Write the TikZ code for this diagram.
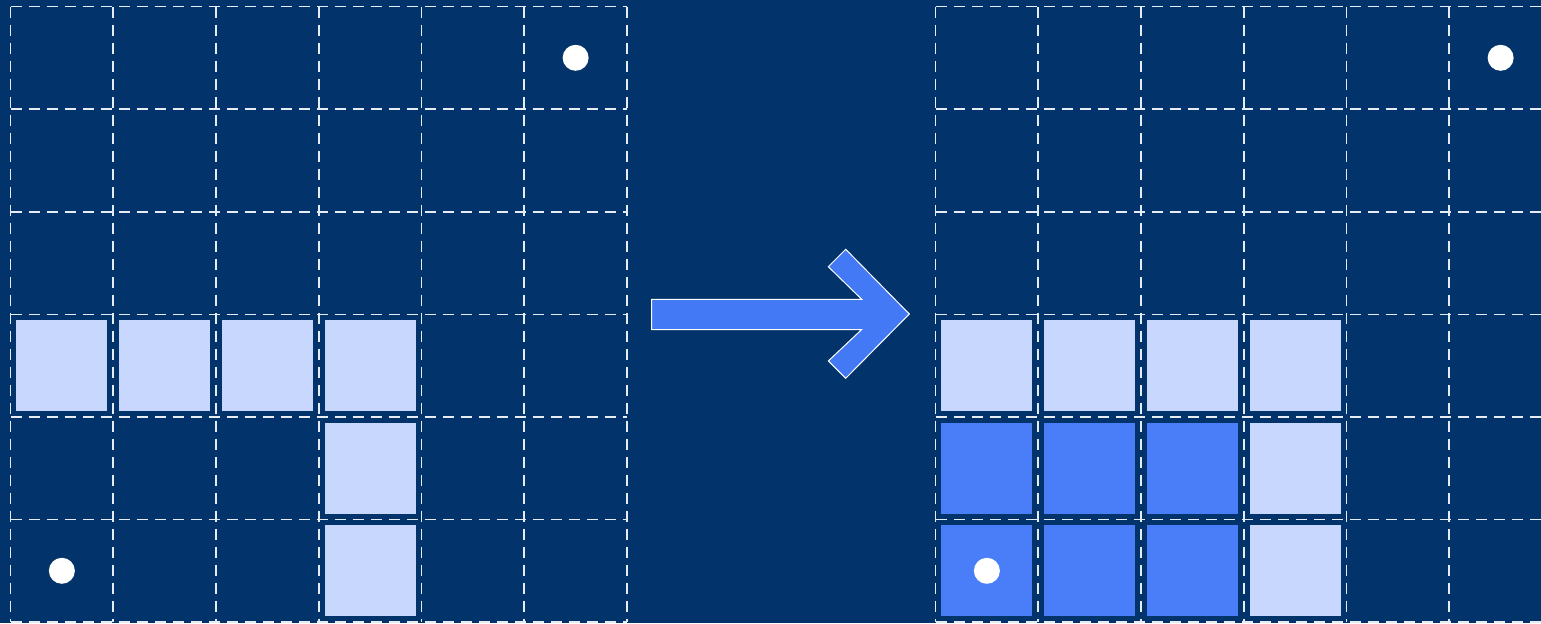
\documentclass[tikz,border=0pt]{standalone}
\usetikzlibrary{positioning}
\definecolor{cbg}{HTML}{02336A}
\definecolor{clight}{HTML}{C8D7FD}
\definecolor{cblue}{HTML}{4A7EF9}
\definecolor{carrow}{HTML}{4479F5}
\definecolor{cgrid}{HTML}{E6ECF4}
\begin{document}
\begin{tikzpicture}[
  x=0.5pt, y=-0.5pt,
  gridline/.style={draw=cgrid, dash pattern=on 5.5pt off 3.5pt, line width=0.8pt},
  cell/.style={draw=none, minimum size=45.5pt, inner sep=0pt},
  lightcell/.style={cell, fill=clight},
  bluecell/.style={cell, fill=cblue},
  dot/.style={circle, fill=white, minimum size=13pt, inner sep=0pt},
  ]
\useasboundingbox (0,0) rectangle (1541,623);
\fill[cbg] (0,0) rectangle (1541,623);
\clip (0,0) rectangle (1541,623);

% grid origins and step
\def\lx{10.5}
\def\rx{935.5}
\def\gy{6.5}
\def\sx{102.75}
\def\sy{102.6}

% dashed grids
\foreach \i in {0,...,6} {
  \draw[gridline] ({\lx+\sx*\i},\gy) -- ++(0,{6*\sy});
  \draw[gridline] ({\rx+\sx*\i},\gy) -- ++(0,{6*\sy});
  \draw[gridline] (\lx,{\gy+\sy*\i}) -- ++({6*\sx},0);
  \draw[gridline] (\rx,{\gy+\sy*\i}) -- ++({6*\sx},0);
}

% wall cells, both grids
\foreach \r/\c in {3/0,3/1,3/2,3/3,4/3,5/3} {
  \node[lightcell] (L\r\c) at ({\lx+\sx*(\c+0.5)},{\gy+\sy*(\r+0.5)}) {};
  \node[lightcell] (R\r\c) at ({\rx+\sx*(\c+0.5)},{\gy+\sy*(\r+0.5)}) {};
}

% filled region, right grid
\foreach \r/\c in {4/0,4/1,4/2,5/0,5/1,5/2} {
  \node[bluecell] (F\r\c) at ({\rx+\sx*(\c+0.5)},{\gy+\sy*(\r+0.5)}) {};
}

% start and goal points
\node[dot] (goalL) at ({\lx+\sx*5.5},{\gy+\sy*0.5}) {};
\node[dot] (startL) at ({\lx+\sx*0.5},{\gy+\sy*5.5}) {};
\node[dot] (goalR) at ({\rx+\sx*5.5},{\gy+\sy*0.5}) {};
\node[dot] (startR) at ({\rx+\sx*0.5},{\gy+\sy*5.5}) {};

% big arrow between the grids
\draw[draw=white, fill=carrow, line width=0.5pt]
  (651.7,299.3) -- (861.7,299.3) -- (828.3,266.7) -- (845.7,249.3)
  -- (909.3,314) -- (845.7,378.3) -- (828.3,361) -- (861.7,329.5)
  -- (651.7,329.5) -- cycle;
\end{tikzpicture}
\end{document}
